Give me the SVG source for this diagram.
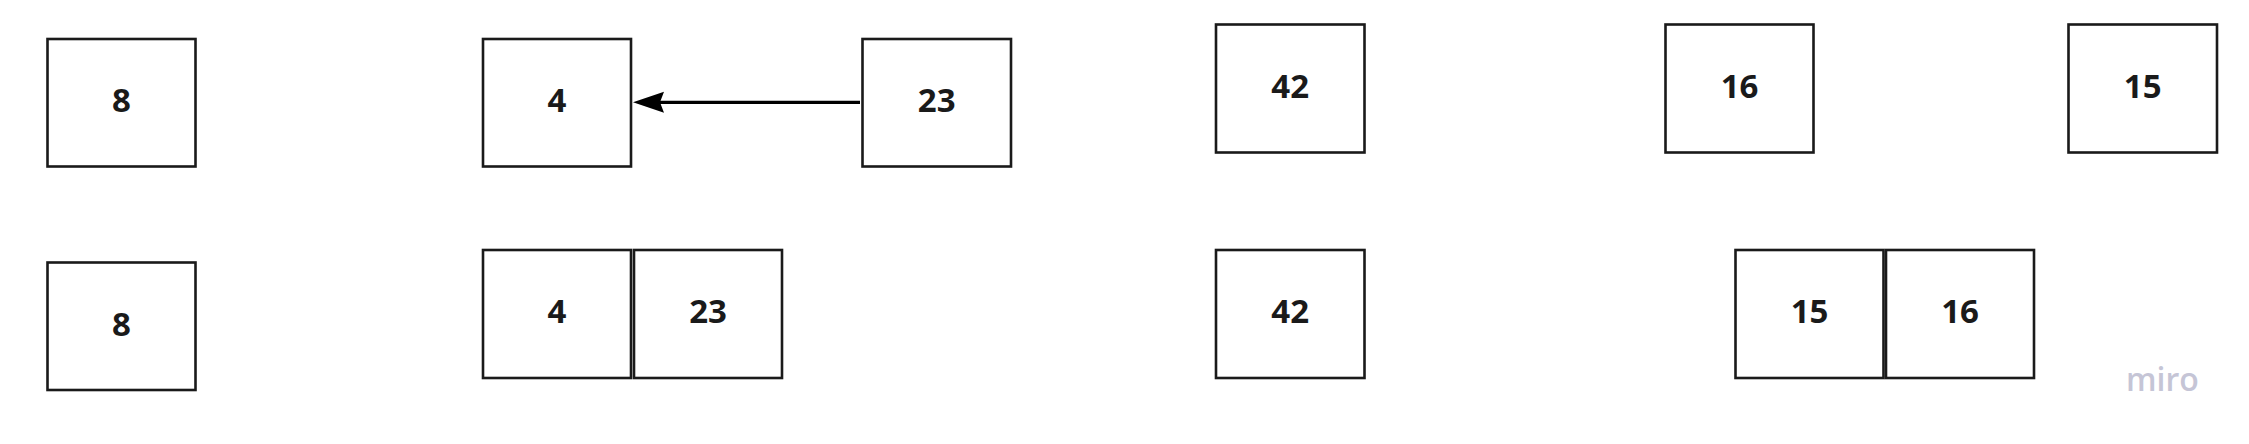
<svg xmlns="http://www.w3.org/2000/svg" width="2249" height="444" viewBox="0 0 2249 444">
<style>
.box{fill:#ffffff;stroke:#1a1a1a;stroke-width:2.6}
.lbl{font-family:"Open Sans","Liberation Sans",sans-serif;font-weight:700;font-size:33px;fill:#1a1a1a;text-anchor:middle}
.conn{stroke:#000000;stroke-width:3.2;fill:none}
.logo{font-family:"Open Sans","Liberation Sans",sans-serif;font-weight:600;font-size:32px;fill:#c5c5d6}
</style>
<defs>
<marker id="arr" markerUnits="userSpaceOnUse" markerWidth="34" markerHeight="24" refX="4" refY="11" orient="auto" viewBox="0 0 34 24">
<path d="M31,11 L0,0.5 L4,11 L0,21.5 Z" fill="#000000"/>
</marker>
</defs>
<rect width="2249" height="444" fill="#ffffff"/>
<g id="connectors">
<line class="conn" x1="860" y1="102.3" x2="660" y2="102.3" marker-end="url(#arr)"/>
</g>
<g id="n8a"><rect class="box" x="47.5" y="39" width="148" height="127.5"/><text class="lbl" x="121.5" y="112">8</text></g>
<g id="n4a"><rect class="box" x="483" y="39" width="148" height="127.5"/><text class="lbl" x="557" y="112">4</text></g>
<g id="n23a"><rect class="box" x="862.5" y="39" width="148.5" height="127.5"/><text class="lbl" x="936.7" y="112">23</text></g>
<g id="n42a"><rect class="box" x="1216" y="24.5" width="148.5" height="128"/><text class="lbl" x="1290.2" y="98">42</text></g>
<g id="n16a"><rect class="box" x="1665.5" y="24.5" width="148" height="128"/><text class="lbl" x="1739.5" y="98">16</text></g>
<g id="n15a"><rect class="box" x="2068.5" y="24.5" width="148.5" height="128"/><text class="lbl" x="2142.7" y="98">15</text></g>
<g id="n8b"><rect class="box" x="47.5" y="262.5" width="148" height="127.5"/><text class="lbl" x="121.5" y="335.5">8</text></g>
<g id="n4b"><rect class="box" x="483" y="250" width="148" height="128"/><text class="lbl" x="557" y="323">4</text></g>
<g id="n23b"><rect class="box" x="634" y="250" width="148" height="128"/><text class="lbl" x="708" y="323">23</text></g>
<g id="n42b"><rect class="box" x="1216" y="250" width="148.5" height="128"/><text class="lbl" x="1290.2" y="323">42</text></g>
<g id="n15b"><rect class="box" x="1735.5" y="250" width="148" height="128"/><text class="lbl" x="1809.5" y="323">15</text></g>
<g id="n16b"><rect class="box" x="1886" y="250" width="148" height="128"/><text class="lbl" x="1960" y="323">16</text></g>
<text class="logo" x="2126" y="391">miro</text>
</svg>
